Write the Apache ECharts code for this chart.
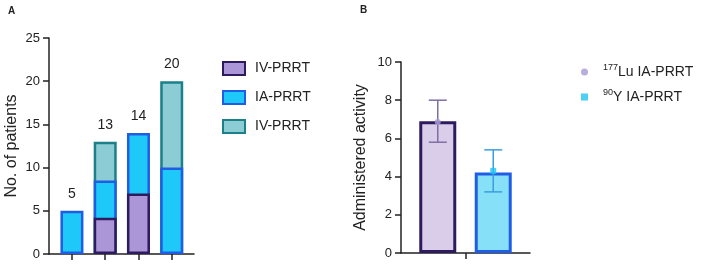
<!DOCTYPE html>
<html>
<head>
<meta charset="utf-8">
<script src="https://cdn.jsdelivr.net/npm/echarts@6/dist/echarts.min.js"></script>
<style>
html, body { margin: 0; padding: 0; background: #fff; }
#main { width: 712px; height: 265px; }
</style>
</head>
<body>
<div id="main"></div>
<script>
// A: 患者数 (各段数值)
var barPosA = [0, 1, 2, 3];
var ivLower = [0, 4.2, 7, 0];     // IV-PRRT (紫)
var iaMiddle = [5, 4.3, 7, 10];   // IA-PRRT (蓝)
var ivUpper = [0, 4.5, 0, 10];    // IV-PRRT (青)
var totalLabels = ['5', '13', '14', '20'];

// B: 给药活度
var actNames = ['177Lu IA-PRRT', '90Y IA-PRRT'];
var actPos = [-0.43, 0.43];
var actMean = [6.9, 4.22];
var actPoint = [6.86, 4.3];
var actLow = [5.8, 3.2];
var actHigh = [8.0, 5.4];

var FONT = 'Liberation Sans, Arial, sans-serif';
var TXT = '#222';

var myChart = echarts.init(document.getElementById('main'));

// 重叠绘制: 先画总高, 再画下面的段
var topData = [], midData = [], lowData = [];
for (var i = 0; i < barPosA.length; i++) {
	var lowTop = ivLower[i];
	var midTop = ivLower[i] + iaMiddle[i];
	var upTop = midTop + ivUpper[i];
	var lab = { show: true, position: 'top', distance: 10, formatter: totalLabels[i],
		color: TXT, fontSize: 14, fontFamily: FONT };
	if (ivUpper[i] > 0) {
		topData.push({ value: [barPosA[i], upTop], label: lab });
		midData.push({ value: [barPosA[i], midTop] });
	} else {
		midData.push({ value: [barPosA[i], midTop], label: lab });
	}
	if (lowTop > 0) {
		lowData.push({ value: [barPosA[i], lowTop] });
	}
}

var errColors = ['#7f6ea2', '#3a9de0'];
var errData = [];
for (var j = 0; j < actPos.length; j++) {
	errData.push([actPos[j], actLow[j], actHigh[j]]);
}

function supName(name) {
	var m = name.match(/^(\d+)(.*)$/);
	return '{sup|' + m[1] + '}{t|' + m[2] + '}';
}

var axisLineStyle = { color: TXT, width: 1.5 };

var option = {
	animation: false,
	title: [
		{ text: 'A', left: 3, top: 1, textStyle: { fontSize: 10, fontWeight: 'bold', color: TXT, fontFamily: FONT } },
		{ text: 'B', left: 355, top: 0, textStyle: { fontSize: 10, fontWeight: 'bold', color: TXT, fontFamily: FONT } }
	],
	legend: [
		{
			orient: 'vertical',
			left: 222,
			top: 61,
			padding: 0,
			itemWidth: 22,
			itemHeight: 13,
			itemGap: 14,
			icon: 'rect',
			data: ['IV-PRRT', 'IA-PRRT', 'IV-PRRT '],
			textStyle: { fontSize: 14, color: TXT, fontFamily: FONT, padding: [0, 0, 0, 5] }
		},
		{
			orient: 'vertical',
			left: 581,
			top: 63,
			padding: 0,
			itemWidth: 7,
			itemHeight: 7,
			itemGap: 9,
			data: actNames,
			formatter: supName,
			textStyle: {
				color: TXT, fontFamily: FONT,
				rich: {
					sup: { fontSize: 9, verticalAlign: 'top', color: TXT, fontFamily: FONT, padding: [0, 0, 0, 10] },
					t: { fontSize: 14, lineHeight: 18, color: TXT, fontFamily: FONT }
				}
			}
		}
	],
	grid: [
		{ left: 49, right: 518, top: 38, bottom: 11 },
		{ left: 401, right: 182, top: 62, bottom: 12 }
	],
	xAxis: [
		{
			gridIndex: 0,
			type: 'value',
			min: -0.69,
			max: 3.67,
			axisLine: { show: true, onZero: false, lineStyle: axisLineStyle },
			axisTick: { show: true, length: 6, customValues: barPosA, lineStyle: axisLineStyle },
			axisLabel: { show: false },
			splitLine: { show: false }
		},
		{
			gridIndex: 1,
			type: 'value',
			min: -1,
			max: 1,
			axisLine: { show: true, onZero: false, lineStyle: axisLineStyle },
			axisTick: { show: true, length: 6, customValues: [0], lineStyle: axisLineStyle },
			axisLabel: { show: false },
			splitLine: { show: false }
		}
	],
	yAxis: [
		{
			gridIndex: 0,
			type: 'value',
			min: 0,
			max: 25,
			interval: 5,
			name: 'No. of patients',
			nameLocation: 'middle',
			nameGap: 29,
			nameTextStyle: { fontSize: 16, color: TXT, fontFamily: FONT },
			axisLine: { show: true, onZero: false, lineStyle: axisLineStyle },
			axisTick: { show: true, length: 6, lineStyle: axisLineStyle },
			axisLabel: { fontSize: 13, color: TXT, fontFamily: FONT, margin: 9 },
			splitLine: { show: false }
		},
		{
			gridIndex: 1,
			type: 'value',
			min: 0,
			max: 10,
			interval: 2,
			name: 'Administered activity',
			nameLocation: 'middle',
			nameGap: 32,
			nameTextStyle: { fontSize: 16, color: TXT, fontFamily: FONT },
			axisLine: { show: true, onZero: false, lineStyle: axisLineStyle },
			axisTick: { show: true, length: 6, lineStyle: axisLineStyle },
			axisLabel: { fontSize: 13, color: TXT, fontFamily: FONT, margin: 9 },
			splitLine: { show: false }
		}
	],
	series: [
		{
			name: 'IV-PRRT ',
			type: 'bar',
			xAxisIndex: 0, yAxisIndex: 0,
			barWidth: 23,
			barGap: '-100%',
			itemStyle: { color: '#8ccdd5', borderColor: '#1b8088', borderWidth: 2.5 },
			data: topData
		},
		{
			name: 'IA-PRRT',
			type: 'bar',
			xAxisIndex: 0, yAxisIndex: 0,
			barWidth: 23,
			barGap: '-100%',
			itemStyle: { color: '#1ec8f8', borderColor: '#1f5de4', borderWidth: 2.5 },
			data: midData
		},
		{
			name: 'IV-PRRT',
			type: 'bar',
			xAxisIndex: 0, yAxisIndex: 0,
			barWidth: 23,
			barGap: '-100%',
			itemStyle: { color: '#ab97d8', borderColor: '#2e1b5e', borderWidth: 2.5 },
			data: lowData
		},
		{
			name: 'barB',
			type: 'bar',
			xAxisIndex: 1, yAxisIndex: 1,
			barWidth: 37,
			barGap: '-100%',
			data: [
				{ value: [actPos[0], actMean[0]], itemStyle: { color: '#d9cdea', borderColor: '#2e1b5e', borderWidth: 3 } },
				{ value: [actPos[1], actMean[1]], itemStyle: { color: '#86e0f8', borderColor: '#1f5de4', borderWidth: 3 } }
			]
		},
		{
			name: 'errB',
			type: 'custom',
			xAxisIndex: 1, yAxisIndex: 1,
			z: 5,
			encode: { x: 0, y: [1, 2] },
			renderItem: function(params, api) {
				var x = api.value(0);
				var pLo = api.coord([x, api.value(1)]);
				var pHi = api.coord([x, api.value(2)]);
				var c = errColors[params.dataIndex];
				var st = { stroke: c, lineWidth: 1.5 };
				var cap = 9;
				return {
					type: 'group',
					children: [
						{ type: 'line', shape: { x1: pLo[0], y1: pLo[1], x2: pHi[0], y2: pHi[1] }, style: st },
						{ type: 'line', shape: { x1: pHi[0] - cap, y1: pHi[1], x2: pHi[0] + cap, y2: pHi[1] }, style: st },
						{ type: 'line', shape: { x1: pLo[0] - cap, y1: pLo[1], x2: pLo[0] + cap, y2: pLo[1] }, style: st }
					]
				};
			},
			data: errData
		},
		{
			name: actNames[0],
			type: 'scatter',
			xAxisIndex: 1, yAxisIndex: 1,
			z: 6,
			symbol: 'circle',
			symbolSize: 6,
			itemStyle: { color: '#a898d4' },
			data: [[actPos[0], actPoint[0]]]
		},
		{
			name: actNames[1],
			type: 'scatter',
			xAxisIndex: 1, yAxisIndex: 1,
			z: 6,
			symbol: 'rect',
			symbolSize: 6,
			itemStyle: { color: '#1fc4f2' },
			data: [[actPos[1], actPoint[1]]]
		}
	]
};

myChart.setOption(option);
</script>
</body>
</html>
